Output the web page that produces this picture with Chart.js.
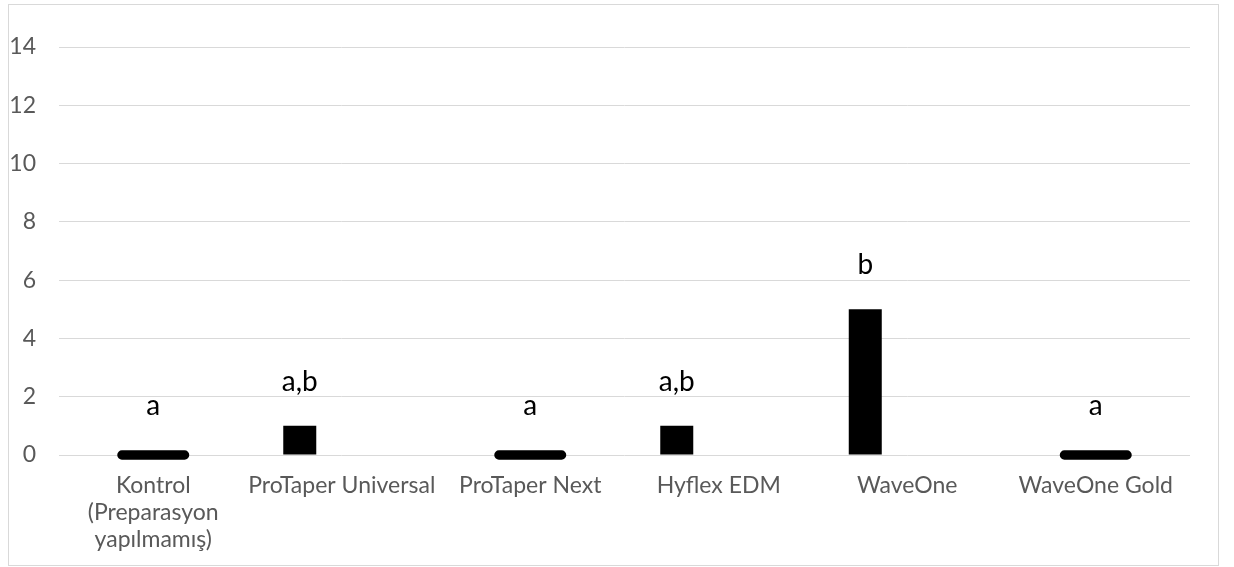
<!DOCTYPE html>
<html>
<head>
<meta charset="utf-8">
<script src="https://cdn.jsdelivr.net/npm/chart.js@4"></script>
<style>
  body { margin: 0; background: #fff; }
  .frame { position: absolute; left: 8px; top: 4px; width: 1209px; height: 560px; border: 1px solid #d9d9d9; }
  canvas { display: block; }
</style>
</head>
<body>
<div class="frame"><canvas id="chart" width="1209" height="560"></canvas></div>
<script>
// categories on the x axis
const categories = [
  ['Kontrol', '(Preparasyon', 'yapılmamış)'],
  'ProTaper Universal',
  'ProTaper Next',
  'Hyflex EDM',
  'WaveOne',
  'WaveOne Gold'
];
// measured values
const values = [0, 1, 0, 1, 5, 0];
// significance letters above each group
const sigLetters = ['a', 'a,b', 'a', 'a,b', 'b', 'a'];
// y axis ticks
const yTicks = [0, 2, 4, 6, 8, 10, 12, 14];

const FONT = 'Lato, "Open Sans", sans-serif';
const ZERO_MARK = 0.16; // half thickness of the flat marker used for zero values

// letters drawn above the bar (or the zero marker) of each category
const letterPlugin = {
  id: 'letters',
  afterDatasetsDraw(chart) {
    const ctx = chart.ctx;
    const bars = chart.getDatasetMeta(0).data;
    const marks = chart.getDatasetMeta(2).data;
    ctx.save();
    ctx.font = '28px ' + FONT;
    ctx.fillStyle = '#000';
    ctx.textAlign = 'center';
    ctx.textBaseline = 'alphabetic';
    sigLetters.forEach((txt, i) => {
      const el = values[i] === 0 ? marks[i] : bars[i];
      if (!el) return;
      const top = Math.min(el.y, el.base);
      ctx.fillText(txt, el.x, top - 35);
    });
    ctx.restore();
  }
};

new Chart(document.getElementById('chart'), {
  type: 'bar',
  data: {
    labels: categories,
    datasets: [
      {
        label: 'Değer',
        data: values,
        backgroundColor: '#000',
        categoryPercentage: 0.891,
        barPercentage: 0.393
      },
      {
        label: '',
        data: values.map(() => null),
        backgroundColor: '#000',
        categoryPercentage: 0.891,
        barPercentage: 0.393
      },
      {
        label: 'sıfır',
        data: values.map(v => v === 0 ? [-ZERO_MARK, ZERO_MARK] : null),
        backgroundColor: '#000',
        grouped: false,
        clip: false,
        categoryPercentage: 1,
        barPercentage: 0.382,
        borderRadius: 5,
        borderSkipped: false
      }
    ]
  },
  options: {
    responsive: false,
    animation: false,
    events: [],
    layout: { padding: { top: 42, right: 28, bottom: 0, left: 0 } },
    plugins: {
      legend: { display: false },
      tooltip: { enabled: false }
    },
    scales: {
      x: {
        grid: { display: false, drawTicks: false },
        border: { display: false },
        ticks: {
          color: '#595959',
          font: { family: FONT, size: 23, lineHeight: 1.18 },
          padding: 17,
          maxRotation: 0,
          autoSkip: false
        },
        afterFit(scale) { scale.height = 110; }
      },
      y: {
        min: yTicks[0],
        max: yTicks[yTicks.length - 1],
        afterBuildTicks(scale) { scale.ticks = yTicks.map(v => ({ value: v })); },
        grid: { color: '#d9d9d9', lineWidth: 1, drawTicks: false },
        border: { display: false },
        ticks: {
          color: '#595959',
          font: { family: FONT, size: 23 },
          padding: 23
        },
        afterFit(scale) { scale.width = 50; }
      }
    }
  },
  plugins: [letterPlugin]
});
</script>
</body>
</html>
